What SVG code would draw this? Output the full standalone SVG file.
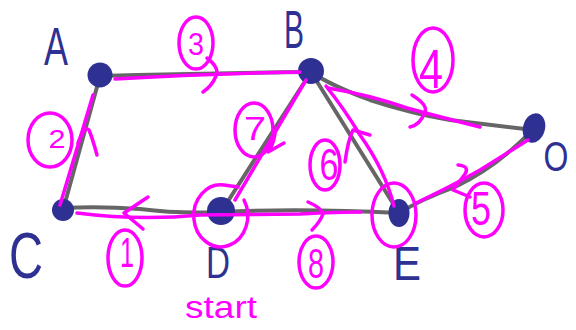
<svg xmlns="http://www.w3.org/2000/svg" width="576" height="330" viewBox="0 0 576 330">
  <defs>
    <style>
      .edge { fill: none; stroke: #666666; stroke-width: 4; stroke-linecap: round; stroke-linejoin: round; }
      .node { fill: #2f3192; }
      .name { fill: #2f3192; font-family: "Liberation Sans", Arial, sans-serif; text-anchor: middle; }
      .walk { fill: none; stroke: #ff00ff; stroke-width: 3.5; stroke-linecap: round; stroke-linejoin: round; }
      .step { fill: #ff00ff; font-family: "Liberation Sans", Arial, sans-serif; text-anchor: middle; }
    </style>
  </defs>
  <rect width="576" height="330" fill="#ffffff"/>

  <!-- graph edges -->
  <g id="connectors">
    <path class="edge" d="M100,76 Q200,73 311,72"/>
    <path class="edge" d="M100,76 L63,210"/>
    <path class="edge" d="M63,208 Q100,206 140,209 Q180,214 221,212"/>
    <path class="edge" d="M221,212 Q300,208 399,213"/>
    <path class="edge" d="M221,212 L311,72"/>
    <path class="edge" d="M311,72 L399,213"/>
    <path class="edge" d="M311,72 Q330,85 370,100 Q410,113 450,120 L534,130"/>
    <path class="edge" d="M399,213 Q420,200 455,187 Q500,165 534,128"/>
  </g>

  <!-- vertices -->
  <g id="node-A">
    <circle class="node" cx="100" cy="75" r="12.5"/>
    <text class="name" x="56" y="65" font-size="53" textLength="24" lengthAdjust="spacingAndGlyphs">A</text>
  </g>
  <g id="node-B">
    <circle class="node" cx="311" cy="71" r="13"/>
    <text class="name" x="294" y="48" font-size="54" textLength="20" lengthAdjust="spacingAndGlyphs">B</text>
  </g>
  <g id="node-C">
    <circle class="node" cx="63" cy="210" r="11"/>
    <text class="name" x="26" y="278" font-size="64" textLength="34" lengthAdjust="spacingAndGlyphs">C</text>
  </g>
  <g id="node-D">
    <circle class="node" cx="221" cy="211" r="14"/>
    <text class="name" x="218" y="278" font-size="44" textLength="24" lengthAdjust="spacingAndGlyphs">D</text>
  </g>
  <g id="node-E">
    <ellipse class="node" cx="399" cy="213" rx="10.5" ry="14"/>
    <text class="name" x="407" y="280" font-size="48" textLength="28" lengthAdjust="spacingAndGlyphs">E</text>
  </g>
  <g id="node-O">
    <ellipse class="node" cx="534" cy="128" rx="11" ry="15" transform="rotate(15 534 128)"/>
    <text class="name" x="556" y="131.5" font-size="32" transform="scale(1 1.3)">O</text>
  </g>

  <!-- traversal order, drawn in magenta -->
  <g id="route">
    <!-- 1: D to C -->
    <path class="walk" d="M77,213 Q140,221 200,215 L300,214 Q340,212 361,212"/>
    <path class="walk" d="M148,197 L124,213 L143,229"/>
    <ellipse class="walk" cx="125" cy="258" rx="17" ry="28"/>
    <text class="step" x="127" y="267" font-size="42" textLength="14" lengthAdjust="spacingAndGlyphs">1</text>

    <!-- 2: C to A -->
    <path class="walk" d="M93,95 L60,205"/>
    <path class="walk" d="M78,143 Q85,125 89,130 Q93,140 97,155"/>
    <ellipse class="walk" cx="50" cy="140" rx="22" ry="27"/>
    <text class="step" x="57" y="148" font-size="25" textLength="17" lengthAdjust="spacingAndGlyphs">2</text>

    <!-- 3: A to B -->
    <path class="walk" d="M115,79 Q200,74 300,72"/>
    <path class="walk" d="M207,58 Q220,68 216,76 Q212,86 203,92"/>
    <ellipse class="walk" cx="196" cy="43" rx="17" ry="26"/>
    <text class="step" x="196" y="55" font-size="32" textLength="16" lengthAdjust="spacingAndGlyphs">3</text>

    <!-- 4: B to O -->
    <path class="walk" d="M328,88 Q370,95 407,108 Q440,117 480,127"/>
    <path class="walk" d="M412,95 Q428,105 425,112 Q420,125 410,127"/>
    <ellipse class="walk" cx="433" cy="60" rx="20" ry="32"/>
    <text class="step" x="431" y="88" font-size="56" textLength="24" lengthAdjust="spacingAndGlyphs">4</text>

    <!-- 5: O to E -->
    <path class="walk" d="M528,140 L480,170 Q450,187 416,203"/>
    <path class="walk" d="M458,165 Q470,166 465,174 L453,190 L470,197"/>
    <ellipse class="walk" cx="484" cy="210" rx="19" ry="27"/>
    <text class="step" x="481" y="225" font-size="48" textLength="20" lengthAdjust="spacingAndGlyphs">5</text>

    <!-- 6: E to B -->
    <path class="walk" d="M326,86 Q345,110 360,135 Q385,170 394,206"/>
    <path class="walk" d="M345,162 Q348,140 353,130 L370,135"/>
    <ellipse class="walk" cx="325" cy="165" rx="15" ry="25"/>
    <text class="step" x="329" y="180" font-size="44" textLength="19" lengthAdjust="spacingAndGlyphs">6</text>

    <!-- 7: B to D -->
    <path class="walk" d="M306,80 L235,200"/>
    <path class="walk" d="M275,134 Q273,146 268,152 L284,143"/>
    <ellipse class="walk" cx="254" cy="130" rx="19" ry="27"/>
    <text class="step" x="255" y="140" font-size="34" textLength="22" lengthAdjust="spacingAndGlyphs">7</text>

    <!-- 8: D to E -->
    <path class="walk" d="M308,202 Q322,208 323,214 Q320,222 312,230"/>
    <ellipse class="walk" cx="316" cy="262" rx="17" ry="26"/>
    <text class="step" x="316" y="278" font-size="42" textLength="16" lengthAdjust="spacingAndGlyphs">8</text>

    <!-- rings round the start and the end -->
    <path class="walk" d="M238,187 L224,185 A27,31 0 1 0 244,200"/>
    <ellipse class="walk" cx="394" cy="215" rx="22" ry="32"/>
    <text class="step" x="221" y="318" font-size="32" textLength="72" lengthAdjust="spacingAndGlyphs">start</text>
  </g>
</svg>
